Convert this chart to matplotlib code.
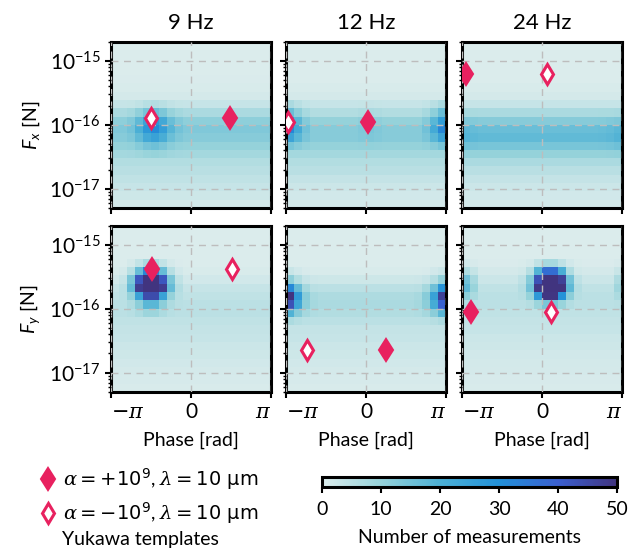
import numpy as np
import matplotlib
matplotlib.use("Agg")
import matplotlib.pyplot as plt
from matplotlib.colors import LinearSegmentedColormap
from matplotlib.lines import Line2D

plt.rcParams["font.family"] = ["Lato", "DejaVu Sans"]
plt.rcParams["mathtext.fontset"] = "custom"
plt.rcParams["mathtext.rm"] = "DejaVu Sans"
plt.rcParams["mathtext.it"] = "DejaVu Serif:italic"
plt.rcParams["mathtext.sf"] = "Lato:italic"
plt.rcParams["font.size"] = 14

frequencies = ["9 Hz", "12 Hz", "24 Hz"]
components = [r"$\mathsf{F_x}$ [N]", r"$\mathsf{F_y}$ [N]"]

# 20 phase bins (-pi..pi) x 20 log force bins (5e-18..2e-15)
phase_edges = np.linspace(-np.pi, np.pi, 21)
force_edges = np.logspace(np.log10(5e-18), np.log10(2e-15), 21)

# background band counts per force bin (bottom -> top), flat in phase
fx9_band = [1, 2, 3, 4, 5, 6, 8, 10, 12, 13, 11, 7, 3, 1, 0.5, 0.3, 0, 0, 0, 0]
fx12_band = [1, 1.5, 2.5, 3.5, 5, 6, 8, 10, 12, 12, 10, 6, 3, 1, 0.5, 0, 0, 0, 0, 0]
fx24_band = [1, 1.5, 2.5, 3.5, 5, 7, 10, 14, 17, 16, 12, 7, 3, 1, 0.5, 0, 0, 0, 0, 0]
fy9_band = [0.5, 0.8, 1, 1.5, 2, 2.5, 3, 3.5, 4, 4.5, 4.5, 4, 3, 1.5, 0.5, 0, 0, 0, 0, 0]
fy12_band = [0.5, 0.8, 1, 1.5, 2, 2.5, 3, 3.5, 4.5, 6, 7, 6.5, 4.5, 2, 0.5, 0, 0, 0, 0, 0]
fy24_band = [0.5, 0.7, 1, 1.2, 1.5, 2, 2.5, 3, 3.5, 4, 4.5, 4.5, 4, 2.5, 1, 0.3, 0, 0, 0, 0]

# concentrated cluster: force weights, phase weights and peak count
fx9_blob_force = [0, 0, 0, 0, 0, 0, 0.1, 0.3, 0.7, 1.0, 0.9, 0.5, 0.15, 0, 0, 0, 0, 0, 0, 0]
fx9_blob_phase = [0, 0, 0.1, 0.4, 0.8, 1.0, 0.7, 0.3, 0.1, 0, 0, 0, 0, 0, 0, 0, 0, 0, 0, 0]
fx12_blob_force = [0, 0, 0, 0, 0, 0, 0, 0.2, 0.6, 1.0, 0.8, 0.5, 0.2, 0, 0, 0, 0, 0, 0, 0]
fx12_blob_phase = [1.0, 0.5, 0.15, 0, 0, 0, 0, 0, 0, 0.05, 0.1, 0.05, 0, 0, 0, 0, 0, 0.15, 0.5, 1.0]
fx24_blob_force = [0, 0, 0, 0, 0, 0, 0.2, 0.6, 1.0, 1.0, 0.6, 0.2, 0, 0, 0, 0, 0, 0, 0, 0]
fx24_blob_phase = [0.3, 0.1, 0, 0, 0, 0, 0, 0, 0, 0, 0, 0, 0, 0, 0, 0, 0, 0.05, 0.15, 0.35]
fy9_blob_force = [0, 0, 0, 0, 0, 0, 0, 0, 0, 0.05, 0.15, 0.45, 1.0, 0.9, 0.35, 0.08, 0, 0, 0, 0]
fy9_blob_phase = [0, 0.02, 0.15, 0.5, 1.0, 1.0, 0.5, 0.15, 0.03, 0, 0, 0, 0, 0, 0, 0, 0, 0, 0, 0]
fy12_blob_force = [0, 0, 0, 0, 0, 0, 0, 0, 0.05, 0.3, 0.8, 1.0, 0.6, 0.2, 0.05, 0, 0, 0, 0, 0]
fy12_blob_phase = [1.0, 0.45, 0.12, 0.02, 0, 0, 0, 0, 0, 0, 0, 0, 0, 0, 0, 0, 0.02, 0.12, 0.4, 0.9]
fy24_blob_force = [0, 0, 0, 0, 0, 0, 0, 0, 0, 0, 0.1, 0.5, 1.0, 0.9, 0.4, 0.08, 0, 0, 0, 0]
fy24_blob_phase = [0.15, 0.06, 0, 0, 0, 0, 0, 0.02, 0.12, 0.5, 1.0, 1.0, 0.55, 0.15, 0.02, 0, 0, 0, 0, 0.05]

blob_peak = [[18, 20, 6], [90, 45, 90]]

bands = [[fx9_band, fx12_band, fx24_band], [fy9_band, fy12_band, fy24_band]]
blob_force = [[fx9_blob_force, fx12_blob_force, fx24_blob_force],
              [fy9_blob_force, fy12_blob_force, fy24_blob_force]]
blob_phase = [[fx9_blob_phase, fx12_blob_phase, fx24_blob_phase],
              [fy9_blob_phase, fy12_blob_phase, fy24_blob_phase]]

# Yukawa template positions (phase [rad], force [N])
plus_phase = [[1.53, 0.08, -2.98], [-1.54, 0.79, -2.79]]
plus_force = [[1.3e-16, 1.1e-16, 6.2e-16], [4.2e-16, 2.26e-17, 8.8e-17]]
minus_phase = [[-1.57, -3.06, 0.18], [1.60, -2.33, 0.35]]
minus_force = [[1.3e-16, 1.12e-16, 6.2e-16], [4.2e-16, 2.26e-17, 8.8e-17]]

pink = "#e8215f"
cmap = LinearSegmentedColormap.from_list(
    "meas", ["#dbecec", "#95d2da", "#4cb0d5", "#2290d8", "#3a5fcf", "#41347f"])

fig = plt.figure(figsize=(6.28, 5.52), dpi=100)
lefts = [0.1768, 0.4554, 0.7357]
bottoms = [0.623, 0.2899]
W, H = 0.2548, 0.3015

for r in range(2):
    for c in range(3):
        ax = fig.add_axes([lefts[c], bottoms[r], W, H])
        counts = np.array(bands[r][c])[:, None] + \
            blob_peak[r][c] * np.outer(blob_force[r][c], blob_phase[r][c])
        mesh = ax.pcolormesh(phase_edges, force_edges, counts, cmap=cmap,
                             vmin=0, vmax=50, rasterized=True)
        ax.set_yscale("log")
        ax.set_ylim(5e-18, 2e-15)
        ax.set_xlim(-np.pi, np.pi)
        ax.set_xticks([-np.pi, 0, np.pi])
        ax.set_yticks([1e-17, 1e-16, 1e-15])
        ax.grid(True, which="major", ls=(0, (5, 4)), color="#bdbdbd", lw=1)
        ax.set_axisbelow(False)
        for s in ax.spines.values():
            s.set_linewidth(2.2)
        ax.tick_params(which="major", direction="out", length=4, width=1.5)
        ax.tick_params(which="minor", direction="out", length=2, width=1)

        ax.plot(plus_phase[r][c], plus_force[r][c], "d", ms=11.5, color=pink,
                mec=pink, mew=1.5, zorder=5)
        ax.plot(minus_phase[r][c], minus_force[r][c], "d", ms=10.5, mfc="white",
                mec=pink, mew=2.2, zorder=5)

        if r == 0:
            ax.set_title(frequencies[c], fontsize=16, pad=9)
            ax.set_xticklabels([])
        else:
            tl = ax.set_xticklabels([r"$-\pi$", "0", r"$\pi$"], fontsize=15)
            tl[0].set_ha("left")
            tl[2].set_ha("right")
            ax.set_xlabel("Phase [rad]", fontsize=14, labelpad=7)
        if c == 0:
            ax.set_ylabel(components[r], fontsize=14, labelpad=5)
            ax.tick_params(axis="y", labelsize=15)
        else:
            ax.set_yticklabels([])
            ax.tick_params(axis="y", which="minor", labelleft=False)

cax = fig.add_axes([0.513, 0.118, 0.47, 0.018])
cbar = fig.colorbar(mesh, cax=cax, orientation="horizontal",
                    ticks=[0, 10, 20, 30, 40, 50])
cbar.outline.set_linewidth(2.2)
cbar.ax.tick_params(labelsize=14, length=4, width=1.5, pad=6)
cbar.set_label("Number of measurements", fontsize=14, labelpad=8)

handles = [
    Line2D([], [], marker="d", ls="", ms=11.5, color=pink, mec=pink, mew=1.5),
    Line2D([], [], marker="d", ls="", ms=10.5, mfc="white", mec=pink, mew=2.2),
]
labels = [r"$\alpha = +10^9$, $\lambda = 10\ \mathrm{\mu m}$",
          r"$\alpha = -10^9$, $\lambda = 10\ \mathrm{\mu m}$"]
fig.legend(handles, labels, loc="center left", bbox_to_anchor=(0.045, 0.1),
           frameon=False, fontsize=14, handlelength=1.0, handletextpad=0.3,
           labelspacing=0.45, borderpad=0)
fig.text(0.099, 0.022, "Yukawa templates", fontsize=14, ha="left", va="center")

fig.savefig("out.png", dpi=100)
